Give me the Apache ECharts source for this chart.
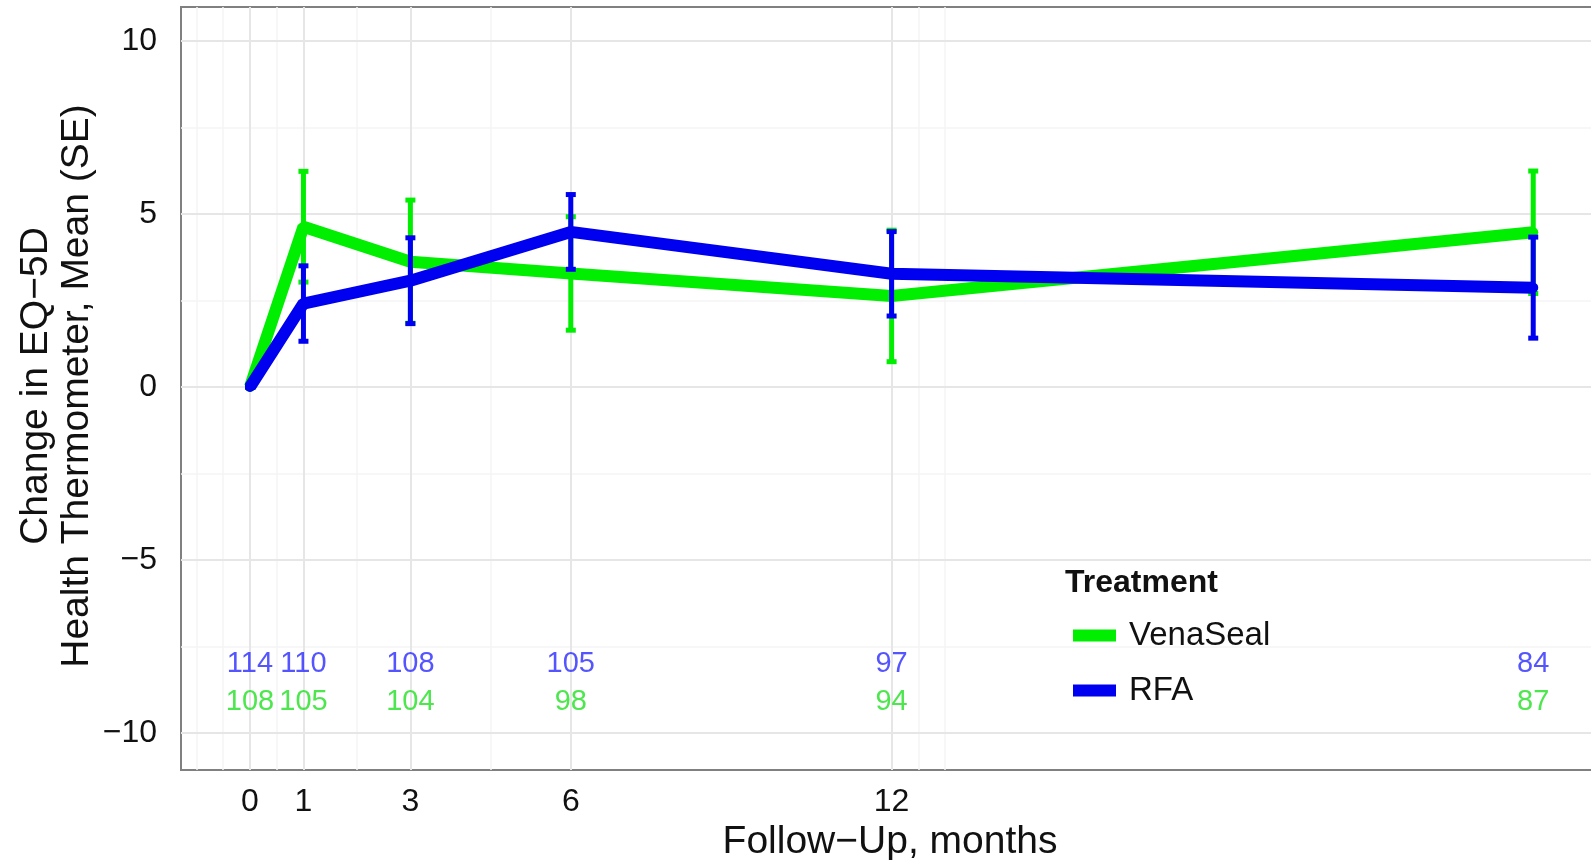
<!DOCTYPE html>
<html>
<head>
<meta charset="utf-8">
<title>EQ-5D Health Thermometer</title>
<script src="https://cdn.jsdelivr.net/npm/echarts@6/dist/echarts.min.js"></script>
<style>
  html, body { margin: 0; padding: 0; background: #fff; overflow: hidden; }
  #chart { width: 1591px; height: 860px; }
</style>
</head>
<body>
<div id="chart"></div>
<script>
// follow-up months and change from baseline, mean and SE
const months = [0, 1, 3, 6, 12, 24];
const venaMean = [0, 4.63, 3.62, 3.28, 2.63, 4.47];
const venaSE = [0, 1.6, 1.78, 1.64, 1.9, 1.77];
const rfaMean = [0, 2.41, 3.07, 4.48, 3.27, 2.87];
const rfaSE = [0, 1.09, 1.24, 1.08, 1.22, 1.46];
// patients at each visit
const rfaN = [114, 110, 108, 105, 97, 84];
const venaN = [108, 105, 104, 98, 94, 87];
// axis breaks
const xTicks = [0, 1, 3, 6, 12];
const xMinor = [-1, -0.5, 0.5, 2, 4.5, 12.5, 13];
const yTicks = [-10, -5, 0, 5, 10];
const yMinor = [-7.5, -2.5, 2.5, 7.5];

const GREEN = "#00ee00";
const BLUE = "#0000f0";
const rfaRow = -8;
const venaRow = -9.1;
const FONT = "Liberation Sans, Arial, sans-serif";

const myChart = echarts.init(document.getElementById("chart"));

// vertical bar with caps, drawn through the axes
function errorBars(name, mean, se, color, z) {
  return {
    name: name,
    type: "custom",
    z: z,
    silent: true,
    data: months.map((m, i) => [m, mean[i] - se[i], mean[i] + se[i]]),
    encode: { x: 0, y: [1, 2] },
    renderItem: function(params, api) {
      const lo = api.coord([api.value(0), api.value(1)]);
      const hi = api.coord([api.value(0), api.value(2)]);
      const cap = 5;
      const style = { stroke: color, lineWidth: 5 };
      return {
        type: "group",
        children: [
          { type: "line", shape: { x1: lo[0], y1: lo[1], x2: hi[0], y2: hi[1] }, style: style },
          { type: "line", shape: { x1: lo[0] - cap, y1: lo[1], x2: lo[0] + cap, y2: lo[1] }, style: style },
          { type: "line", shape: { x1: hi[0] - cap, y1: hi[1], x2: hi[0] + cap, y2: hi[1] }, style: style }
        ]
      };
    }
  };
}

function gridLines() {
  const major = { color: "#e6e6e6", width: 2, type: "solid" };
  const minor = { color: "#f4f4f4", width: 1.5, type: "solid" };
  let lines = [];
  xMinor.forEach(v => lines.push({ xAxis: v, lineStyle: minor }));
  yMinor.forEach(v => lines.push({ yAxis: v, lineStyle: minor }));
  xTicks.forEach(v => lines.push({ xAxis: v, lineStyle: major }));
  yTicks.forEach(v => lines.push({ yAxis: v, lineStyle: major }));
  return lines;
}

function countLabels(name, counts, row, color) {
  return {
    name: name + " n",
    type: "scatter",
    z: 1,
    silent: true,
    symbolSize: 0,
    data: months.map((m, i) => [m, row, counts[i]]),
    label: {
      show: true,
      position: "inside",
      formatter: p => String(p.value[2]),
      fontSize: 29,
      fontFamily: FONT,
      color: color
    }
  };
}

const minusFmt = v => String(v).replace("-", "\u2212");

const option = {
  animation: false,
  textStyle: { fontFamily: FONT },
  grid: {
    left: 181,
    top: 7,
    width: 1418,
    bottom: 90,
    outerBoundsMode: "none",
    containLabel: false,
    show: true,
    borderColor: "#808080",
    borderWidth: 2
  },
  xAxis: {
    type: "value",
    min: -1.29,
    max: 25.23,
    axisLine: { show: false },
    axisTick: {
      show: true,
      customValues: xTicks,
      length: 9,
      lineStyle: { color: "#222", width: 2 }
    },
    axisLabel: {
      customValues: xTicks,
      fontSize: 32,
      color: "#111",
      margin: 16
    },
    splitLine: { show: false },
    name: "Follow\u2212Up, months",
    nameLocation: "middle",
    nameGap: 52,
    nameTextStyle: { fontSize: 39, color: "#111" }
  },
  yAxis: {
    type: "value",
    min: -11.07,
    max: 10.98,
    axisLine: { show: false },
    axisTick: {
      show: true,
      customValues: yTicks,
      length: 9,
      lineStyle: { color: "#222", width: 2 }
    },
    axisLabel: {
      customValues: yTicks,
      fontSize: 32,
      color: "#111",
      margin: 24,
      formatter: minusFmt
    },
    splitLine: { show: false }
  },
  legend: {
    orient: "vertical",
    left: 1068,
    top: 614,
    itemWidth: 43,
    itemHeight: 12,
    itemGap: 22,
    icon: "rect",
    data: ["VenaSeal", "RFA"],
    textStyle: { fontSize: 33, color: "#111", padding: [0, 0, 0, 8] }
  },
  graphic: [
    {
      type: "text",
      x: 57,
      y: 386,
      rotation: Math.PI / 2,
      style: {
        text: "Change in EQ\u22125D\nHealth Thermometer, Mean (SE)",
        align: "center",
        verticalAlign: "middle",
        fontSize: 39,
        lineHeight: 41,
        fill: "#111",
        fontFamily: FONT
      }
    },
    {
      type: "text",
      x: 1065,
      y: 583,
      style: {
        text: "Treatment",
        verticalAlign: "middle",
        fontSize: 32,
        fontWeight: "bold",
        fill: "#111",
        fontFamily: FONT
      }
    }
  ],
  series: [
    Object.assign(countLabels("RFA", rfaN, rfaRow, "#2a2aff"), {
      markLine: { silent: true, symbol: "none", z: 1, label: { show: false }, data: gridLines() }
    }),
    countLabels("VenaSeal", venaN, venaRow, "#22e022"),
    {
      name: "VenaSeal",
      type: "line",
      z: 10,
      data: months.map((m, i) => [m, venaMean[i]]),
      symbol: "circle",
      symbolSize: 10,
      itemStyle: { color: GREEN },
      lineStyle: { color: GREEN, width: 12 }
    },
    errorBars("VenaSeal err", venaMean, venaSE, GREEN, 11),
    {
      name: "RFA",
      type: "line",
      z: 12,
      data: months.map((m, i) => [m, rfaMean[i]]),
      symbol: "circle",
      symbolSize: 10,
      itemStyle: { color: BLUE },
      lineStyle: { color: BLUE, width: 12 }
    },
    errorBars("RFA err", rfaMean, rfaSE, BLUE, 13)
  ]
};

myChart.setOption(option);
</script>
</body>
</html>
